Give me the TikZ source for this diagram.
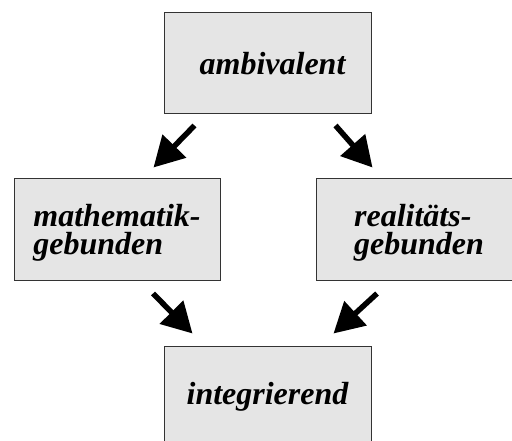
\documentclass[tikz,border=0pt]{standalone}
\usepackage{fontspec}
\setmainfont{Liberation Serif}[BoldItalicFont={Liberation Serif Bold Italic}]
\usetikzlibrary{arrows.meta}
\definecolor{boxfill}{HTML}{E5E5E5}
\definecolor{boxline}{HTML}{333333}
\tikzset{
  box/.style={draw=boxline, fill=boxfill, line width=1pt, inner sep=0pt, align=left,
    font=\bfseries\itshape\fontsize{32}{28}\selectfont},
  bigarrow/.style={line width=5.5pt, -{Triangle[length=30pt,width=32pt]}}
}
\begin{document}
\begin{tikzpicture}[x=1pt,y=-1pt]
\useasboundingbox (0,0) rectangle (512,441);
\clip (0,0) rectangle (512,441);
\node[box, minimum width=207pt, minimum height=101pt] (top) at (267.5,63.5) {\hspace*{10pt}ambivalent};
\node[box, minimum width=206pt, minimum height=101pt] (left) at (117,229.5) {\rule{0pt}{28pt}mathematik-\\gebunden};
\node[box, minimum width=206pt, minimum height=101pt] (right) at (419,229.5) {\rule{0pt}{28pt}realitäts-\\gebunden};
\node[box, minimum width=207pt, minimum height=101pt] (bottom) at (267.5,396.5) {integrierend};
\draw[bigarrow] ([shift={(31,11)}]top.south west) -- ([shift={(-67,-11)}]left.north east);
\draw[bigarrow] ([shift={(-36,11)}]top.south east) -- ([shift={(57,-11)}]right.north west);
\draw[bigarrow] ([shift={(36,13)}]left.south) -- ([shift={(29,-12)}]bottom.north west);
\draw[bigarrow] ([shift={(-42,13)}]right.south) -- ([shift={(-38,-12)}]bottom.north east);
\end{tikzpicture}
\end{document}
